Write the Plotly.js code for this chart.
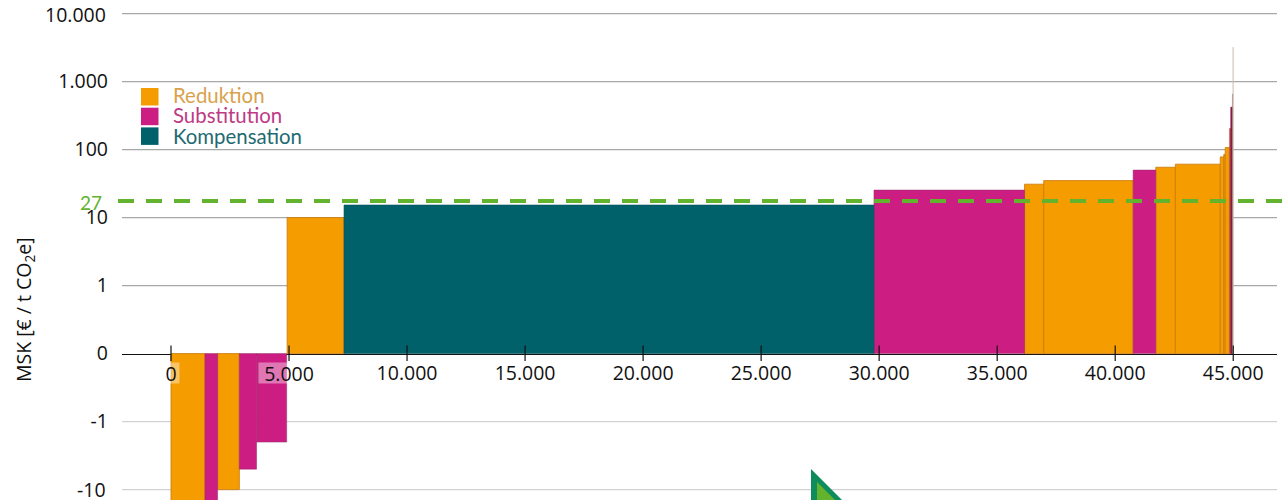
<!DOCTYPE html>
<html><head><meta charset="utf-8">
<script src="https://cdn.plot.ly/plotly-3.0.1.min.js"></script>
<style>html,body{margin:0;padding:0;background:#fff;overflow:hidden}</style>
</head><body><div id="chart" style="width:1282px;height:500px"></div>
<script>
// MSK abatement cost curve: cumulative-volume edges (t CO2e) and cost (EUR / t CO2e)
const binStart = [0,1440,1975,2895,3625,4920,7330,29780,36160,36970,40760,41720,42550,44450,44600,44660,44840,44900,44965,44985];
const binEnd   = [1440,1975,2895,3625,4900,7330,29780,36160,36970,40760,41720,42550,44450,44600,44660,44840,44900,44965,44985,45005];
const msk      = [-40,-25,-10,-5,-2,10,15.3,25.4,31,35,50,55,61,78,85,107,205,420,655,3200];
const category = ['R','S','R','S','S','R','K','S','R','R','S','R','R','R','R','R','B','D','X','Y'];
const catNames = {R:'Reduktion',S:'Substitution',K:'Kompensation',B:'Reduktion',D:'Substitution',X:'Reduktion',Y:'Reduktion'};
const catFill  = {R:'#F59C00',S:'#CC1D82',K:'#00616B',B:'#B5513F',D:'#8B1A4A',X:'#A0705A',Y:'#C9BDB5'};
const catLine  = {R:'rgba(205,125,15,0.85)',S:'rgba(150,45,105,0.5)',K:'rgba(0,80,90,0.6)',B:'rgba(190,90,60,0.5)',D:'rgba(130,25,70,0.8)',X:'rgba(160,110,90,0.4)',Y:'rgba(200,190,185,0.4)'};
const xTicks = [0,5000,10000,15000,20000,25000,30000,35000,40000,45000];
const xLabels = ['0','5.000','10.000','15.000','20.000','25.000','30.000','35.000','40.000','45.000'];
const yTicks = [10000,1000,100,10,1,0,-1,-10];
const yLabels = ['10.000','1.000','100','10','1','0','-1','-10'];
const priceLevel = 17.5, priceLabel = '27';
const legendItems = [['Reduktion','#F59C00','#D9A24E'],['Substitution','#CC1D82','#BE3A85'],['Kompensation','#00616B','#1F6A72']];

const sym = v => v===0 ? 0 : Math.sign(v)*(Math.log10(Math.abs(v))+1);
const L=122,W=1155,H=500;
const px = p => (p-L)/W, py = p => (H-p)/H;
const tickFont = {family:'"Open Sans",sans-serif',size:19.5,color:'#111'};
const lfont='Lato,"Open Sans",sans-serif';

const traces = Object.keys(catFill).map(c=>{
  const idx = msk.map((_,i)=>i).filter(i=>category[i]===c);
  return {type:'bar',name:catNames[c],showlegend:false,
    x:idx.map(i=>(binStart[i]+binEnd[i])/2),
    width:idx.map(i=>binEnd[i]-binStart[i]),
    y:idx.map(i=>sym(msk[i])),
    marker:{color:catFill[c],line:{color:catLine[c],width:1}},hoverinfo:'skip'};
});
traces.push({type:'scatter',mode:'markers',x:xTicks,y:xTicks.map(()=>0.005),showlegend:false,hoverinfo:'skip',
  marker:{symbol:'line-ns',size:11,line:{color:'#111',width:1.2},color:'#111'},cliponaxis:false});

const gridShapes = yTicks.filter(v=>v!==0).map(v=>({type:'line',layer:'below',xref:'paper',yref:'y',x0:0,x1:1,y0:sym(v),y1:sym(v),
  line:{color:v>0?'#A8A8A8':'#D2D2D2',width:1.2}}));
const priceShape = {type:'line',layer:'above',xref:'paper',yref:'y',x0:px(118),x1:px(1282),y0:sym(priceLevel),y1:sym(priceLevel),
  line:{color:'#64B32F',width:4,dash:'16px,12px'}};
const legendShapes = legendItems.map((it,i)=>({type:'rect',xref:'paper',yref:'paper',x0:px(141),x1:px(158.5),
  y0:py(88+i*19.7+17.5),y1:py(88+i*19.7),fillcolor:it[1],line:{width:0}}));
const logo = [
 {type:'path',xref:'paper',yref:'paper',path:`M ${px(811)} ${py(469)} L ${px(845)} ${py(503)} L ${px(811)} ${py(503)} Z`,fillcolor:'#0F8C5B',line:{width:0}},
 {type:'path',xref:'paper',yref:'paper',path:`M ${px(817)} ${py(482)} L ${px(838)} ${py(503)} L ${px(817)} ${py(503)} Z`,fillcolor:'#64B32F',line:{width:0}}
];

const annos = [
 ...legendItems.map((it,i)=>({xref:'paper',yref:'paper',x:px(171.5),y:py(95+i*20.3),xanchor:'left',yanchor:'middle',showarrow:false,text:it[0],
   font:{family:lfont,size:20.4,color:it[2]},borderpad:0})),
 {xref:'paper',yref:'paper',x:px(103),y:py(202),xanchor:'right',yanchor:'middle',showarrow:false,text:priceLabel,font:{family:lfont,size:19,color:'#64B32F'},borderpad:0},
 {xref:'paper',yref:'paper',x:px(24),y:py(310),xanchor:'center',yanchor:'middle',showarrow:false,textangle:-90,
   text:'MSK [€ / t CO<sub>2</sub>e]',font:{family:tickFont.family,size:19.5,color:'#111'}},
 ...xTicks.slice(0,2).map((v,i)=>({xref:'x',yref:'paper',x:v,y:py(373),xanchor:'center',yanchor:'middle',showarrow:false,text:xLabels[i],font:tickFont,
   bgcolor:'rgba(255,255,255,0.4)',borderpad:0,width:i?60:16,height:20,align:'center'})),
 {xref:'paper',yref:'y',x:px(107),y:sym(-10),xanchor:'right',yanchor:'middle',showarrow:false,text:yLabels[7],font:tickFont,borderpad:0,height:18,yshift:1},
 {xref:'paper',yref:'y',x:px(107),y:sym(10000),xanchor:'right',yanchor:'middle',showarrow:false,text:yLabels[0],font:tickFont,borderpad:0,height:20}
];

Plotly.newPlot('chart',traces,{
  width:1282,height:500,margin:{l:L,r:1282-L-W,t:0,b:0,pad:0},
  paper_bgcolor:'#fff',plot_bgcolor:'#fff',barmode:'overlay',showlegend:false,
  xaxis:{range:[(L-171)/0.023605,(L+W-171)/0.023605],anchor:'free',position:146.4/500,showline:true,linecolor:'#111',linewidth:1.4,layer:'below traces',
    showgrid:false,zeroline:false,tickmode:'array',tickvals:xTicks.slice(2),ticktext:xLabels.slice(2),ticks:'',ticklabelstandoff:2,
    tickfont:tickFont,fixedrange:true},
  yaxis:{range:[-146.4/68,353.6/68],showgrid:false,zeroline:false,showline:false,tickmode:'array',
    tickvals:yTicks.slice(1,7).map(sym),ticktext:yLabels.slice(1,7),ticks:'',ticklabelstandoff:13,
    tickfont:tickFont,fixedrange:true},
  shapes:[...gridShapes,priceShape,...legendShapes,...logo],
  annotations:annos
},{displayModeBar:false,staticPlot:true});
</script></body></html>
